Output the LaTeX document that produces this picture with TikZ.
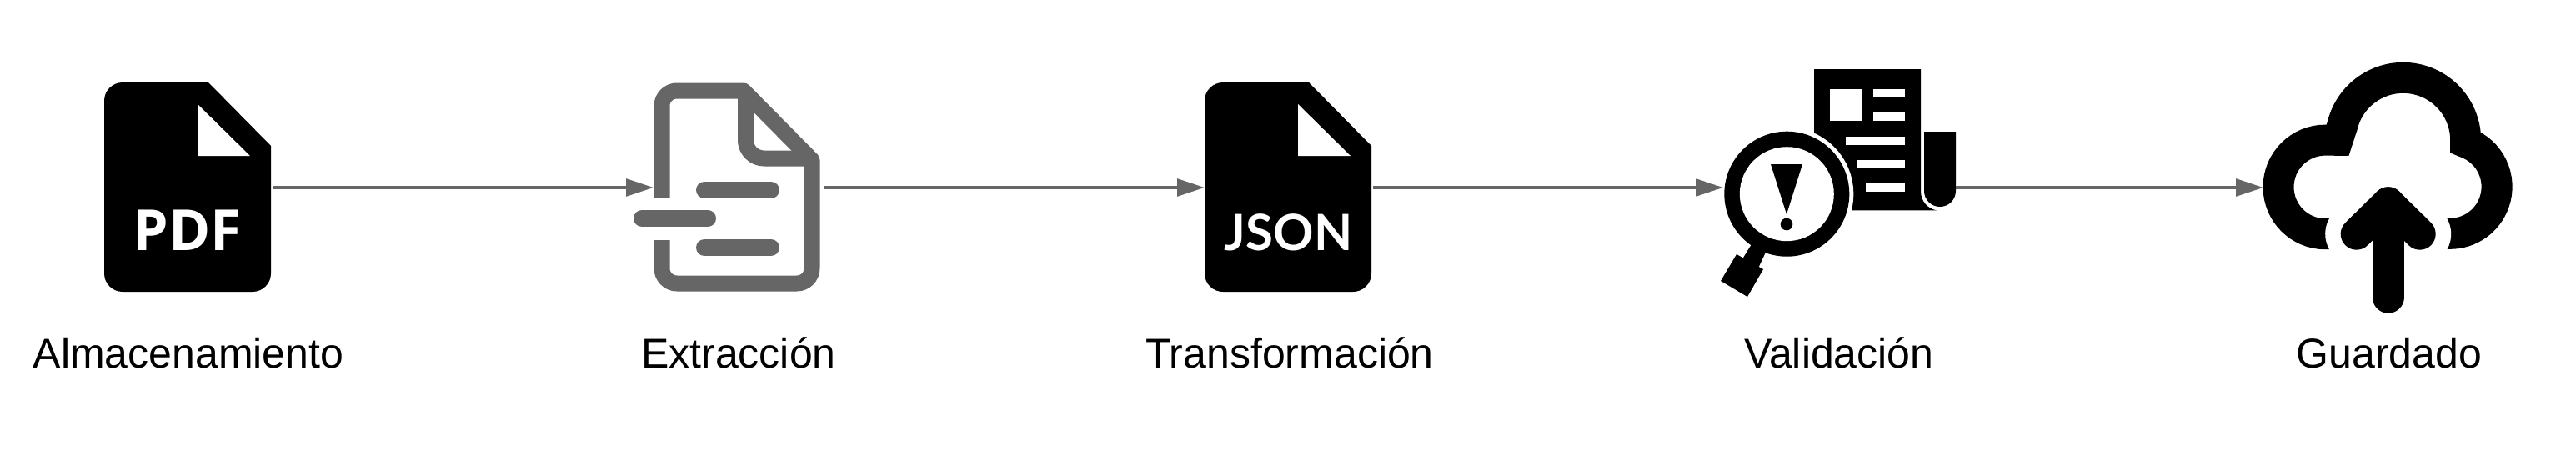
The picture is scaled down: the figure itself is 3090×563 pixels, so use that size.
\documentclass[tikz,border=0pt]{standalone}
\usepackage{fontspec}
\setmainfont{Liberation Sans}
\newfontfamily\iconfont{Open Sans}
\newfontfamily\jsonfont{Lato}
\usetikzlibrary{math,arrows.meta}
\definecolor{linegray}{HTML}{666666}
\tikzset{
  icon/.style={inner sep=0pt,outer sep=0pt,minimum height=100pt},
  caption/.style={anchor=base,inner sep=0pt,font=\fontsize{25}{30}\selectfont},
  flow/.style={draw=linegray,line width=2pt,-{Triangle[length=16.5pt,width=10.3pt,fill=linegray]}},
  doctext/.style={anchor=base,inner sep=0pt,text=white},
}
\begin{document}
\begin{tikzpicture}[x=0.5pt,y=-0.5pt]
      \useasboundingbox(0,0)rectangle(3090,563);
      % icon boxes, only used as ends of the arrows
      \node[icon,minimum width=100pt](pdf) at (227,225){};
      \node[icon,minimum width=102pt](extract) at (886,225){};
      \node[icon,minimum width=101pt](json) at (1546,225){};
      \node[icon,minimum width=139.5pt](valid) at (2206.5,225){};
      \node[icon,minimum width=150pt](cloud) at (2865,225){};

      % PDF and JSON sheets
      \foreach \x in {0,1320}{
        \fill[rounded corners=11pt](\x+225,350)--(\x+125,350)--(\x+125,99)[sharp corners]--(\x+250,99)--(\x+325,175)[rounded corners=11pt]--(\x+325,350)--cycle;
        \fill[white](\x+237,125)--(\x+237,187)--(\x+300,187)--cycle;
      }
      \node[doctext,font=\iconfont\bfseries\fontsize{34}{34}\selectfont](pdftext) at (224.5,300){PDF};
      \node[doctext,font=\jsonfont\bfseries\fontsize{30}{30}\selectfont](jsontext) at (1545.5,300){JSON};

      % extraction sheet
      \begin{scope}[draw=linegray,line width=9.5pt,line join=round]
      \draw[rounded corners=9pt](794,237)--(794,109)[sharp corners]--(892,109)--(974,192)[rounded corners=9pt]--(974,340)--(794,340)--(794,288);
      \draw[rounded corners=11pt](894.5,109)--(894.5,190)[sharp corners]--(974,190);
      \draw[line width=10pt,line cap=round](845,228)--(925,228);
      \draw[line width=10pt,line cap=round](770,262)--(849,262);
      \draw[line width=10pt,line cap=round](845,297)--(925,297);
      \end{scope}

      % newspaper
      \fill(2176,83)--(2304,83)--(2304,229.7)arc[start angle=180,end angle=100,radius=23]--(2176,252.4)--cycle;
      \fill(2308,158)--(2346,158)--(2346,229)arc[start angle=0,end angle=180,radius=19]--cycle;
      \fill[white](2195,107)rectangle(2233,145);
      \foreach \xa/\ya in {2247/107,2247/135,2214/164,2228/192,2238/220}{
        \fill[white](\xa,\ya)rectangle(2285,\ya+9.5);
      }
      % magnifier
      \coordinate(lens) at (2143.3,232.7);
      \fill[white](lens)circle(80);
      \fill(lens)circle(75);
      \fill[white](lens)circle(56.5);
      \fill(2124,197)--(2162,197)--(2143,257)--cycle;
      \fill(2143,269)circle(7.3);
      \fill(2104,288)--(2120,298)--(2107,326)--(2088,314)--cycle;
      \fill(2083,305)--(2115,323)--(2096,356)--(2064,337)--cycle;

      % cloud
      \draw[line width=18.5pt](2815,280.7)--(2789.3,280.7)arc[start angle=90,end angle=270,radius=56.3]--(2804,168.3)--(2809.9,150.2)arc[start angle=194,end angle=362,radius=75]arc[start angle=-70.5,end angle=90,radius=56.3]--(2915,280.7);
      \draw[white,line width=37.5pt,line cap=round,line join=round](2826.7,280.7)--(2864.7,243.3)--(2902.7,280.7);
      \draw[line width=19pt,line cap=round,line join=round](2826.7,280.7)--(2864.7,243.3)--(2902.7,280.7);
      \draw[line width=19pt,line cap=round](2864.7,243.3)--(2864.7,356.7);

      \draw[flow](pdf.east)--(extract.west);
      \draw[flow](extract.east)--(json.west);
      \draw[flow](json.east)--(valid.west);
      \draw[flow](valid.east)--(cloud.west);

      \node[caption](lab1) at (226,441){Almacenamiento};
      \node[caption](lab2) at (886,441){Extracción};
      \node[caption](lab3) at (1547,441){Transformación};
      \node[caption](lab4) at (2206,441){Validación};
      \node[caption](lab5) at (2866,441){Guardado};
\end{tikzpicture}
\end{document}
